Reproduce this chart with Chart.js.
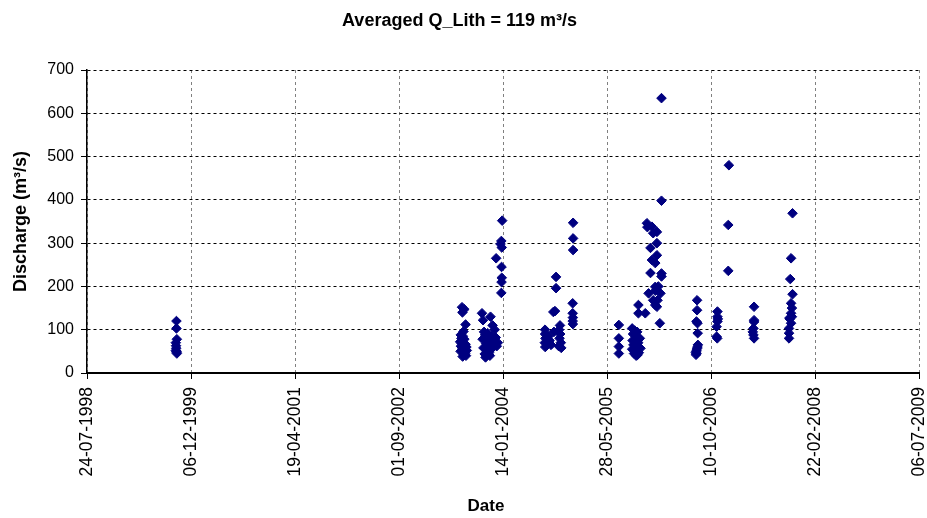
<!DOCTYPE html>
<html><head><meta charset="utf-8">
<script src="https://cdn.jsdelivr.net/npm/chart.js@4.4.0/dist/chart.umd.min.js"></script>
<style>html,body{margin:0;padding:0;background:#fff}#wrap{width:927px;height:518px;position:relative}</style>
</head><body><div id="wrap"><canvas id="c"></canvas></div>
<script>
const chartTitle = 'Averaged Q_Lith = 119 m³/s';
const xAxisTitle = 'Date';
const yAxisTitle = 'Discharge (m³/s)';
const xStartDate = '1998-07-24';
const xEndDate = '2009-07-06';
const xTickStepDays = 500;
const yMin = 0, yMax = 700, yStep = 100;

const sampleDates = [
 '1999-09-27','1999-09-27','1999-09-29','1999-09-24','1999-09-25','1999-09-26','1999-09-24','1999-09-28','1999-09-29','1999-09-27',
 '2003-07-01','2003-07-12','2003-07-03','2003-07-18','2003-07-08','2003-06-25','2003-07-05','2003-06-28','2003-07-12','2003-06-22',
 '2003-07-08','2003-07-18','2003-06-26','2003-07-02','2003-07-14','2003-06-24','2003-07-06','2003-07-16','2003-07-10','2003-07-04',
 '2003-07-20','2003-06-30','2003-07-22','2003-07-24',
 '2003-10-05','2003-11-15','2003-10-10','2003-11-25','2003-12-05','2003-10-15','2003-11-01','2003-10-20','2003-11-20','2003-12-10',
 '2003-10-08','2003-11-05','2003-12-01','2003-10-25','2003-11-10','2003-12-15','2003-10-12','2003-11-18','2003-10-30','2003-11-08',
 '2003-10-18','2003-11-12','2003-10-22','2003-11-28','2003-12-20','2003-10-28',
 '2004-01-10','2004-01-06','2004-01-02','2004-01-08','2003-12-12','2004-01-07','2004-01-08','2004-01-07','2004-01-06',
 '2004-08-03','2004-08-03','2004-08-05','2004-08-02','2004-08-04','2004-08-20','2004-08-25','2004-09-01','2004-09-12','2004-09-20',
 '2004-09-25','2004-09-25','2004-10-14','2004-10-10','2004-10-15','2004-10-12','2004-10-18','2004-10-08','2004-10-20','2004-09-15',
 '2004-12-16','2004-12-16','2004-12-16','2004-12-14','2004-12-14','2004-12-15','2004-12-14','2004-12-15',
 '2005-07-24','2005-07-24','2005-07-24','2005-07-24',
 '2005-09-26','2005-10-08','2005-10-20','2005-09-30','2005-10-14','2005-11-02','2005-09-28','2005-10-10','2005-10-25','2005-10-02',
 '2005-10-18','2005-11-05','2005-09-26','2005-10-12','2005-10-28','2005-10-05','2005-10-22','2005-10-15',
 '2005-10-26','2005-10-26','2005-11-28','2005-12-06','2005-12-08','2005-12-30','2006-01-05','2006-01-23','2006-01-23','2005-12-23',
 '2005-12-30','2006-01-23','2006-01-15','2005-12-23','2006-02-14','2006-02-14','2006-01-15','2006-01-30','2005-12-14','2006-02-09',
 '2006-01-15','2006-01-05','2006-01-26','2006-01-23','2006-01-15','2006-02-06','2006-02-14','2006-02-14',
 '2006-08-04','2006-08-04','2006-08-01','2006-08-06','2006-08-07','2006-08-08','2006-08-06','2006-08-04','2006-08-02','2006-07-31',
 '2006-07-29','2006-08-01','2006-07-30',
 '2006-11-10','2006-11-10','2006-11-10','2006-11-06','2006-11-06','2006-11-09','2006-11-12',
 '2007-01-04','2007-01-01','2007-01-01',
 '2007-05-05','2007-05-05','2007-05-05','2007-04-29','2007-05-05','2007-05-02','2007-05-02',
 '2007-11-06','2007-10-30','2007-10-26','2007-11-06','2007-10-30','2007-11-03','2007-10-30','2007-10-22','2007-10-30','2007-10-20',
 '2007-10-20','2007-10-20','2007-11-03','2007-10-24'
];
const discharge = [
 120,103,78,70,63,57,52,48,45,50,
 152,147,140,112,96,88,85,80,78,72,
 70,66,62,58,55,50,48,45,42,38,
 40,68,60,52,
 138,130,122,110,100,95,92,88,85,82,
 78,75,72,68,65,62,58,55,50,47,
 44,40,36,60,70,53,
 352,305,298,290,265,245,220,210,185,
 100,90,80,70,60,85,75,65,141,143,
 222,196,110,100,90,80,70,62,58,95,
 347,311,284,161,138,128,120,113,
 111,80,61,45,
 103,98,95,90,85,80,75,72,70,65,
 60,57,55,50,47,45,42,40,
 157,138,138,346,337,338,323,326,300,289,
 261,272,254,231,230,223,199,200,184,184,
 190,168,168,153,157,115,635,398,
 168,145,119,115,92,65,60,57,53,50,
 47,45,42,
 142,130,119,107,84,80,125,
 480,342,236,
 153,122,118,95,80,88,103,
 369,265,217,182,161,150,138,127,115,103,
 92,80,130,125
];

const DAY = 86400000;
function dayNum(s){ const p = s.split('-').map(Number); return Date.UTC(p[0], p[1]-1, p[2]) / DAY; }
const startDay = dayNum(xStartDate);
const spanDays = dayNum(xEndDate) - startDay;
function fmt(offset){
  const d = new Date((startDay + offset) * DAY);
  const dd = String(d.getUTCDate()).padStart(2,'0');
  const mm = String(d.getUTCMonth()+1).padStart(2,'0');
  return dd + '-' + mm + '-' + d.getUTCFullYear();
}
const points = sampleDates.map((s,i) => ({x: dayNum(s) - startDay, y: discharge[i]}));

const FONT = "'Liberation Sans', Arial, sans-serif";

const xTitlePlugin = {
  id: 'xTitle',
  afterDraw(chart) {
    const ctx = chart.ctx, a = chart.chartArea;
    ctx.save();
    ctx.font = "bold 17px " + FONT;
    ctx.fillStyle = '#000';
    ctx.textAlign = 'center';
    ctx.textBaseline = 'middle';
    ctx.fillText(xAxisTitle, (a.left + a.right) / 2 - 17, 506);
    ctx.restore();
  }
};

new Chart(document.getElementById('c'), {
  type: 'scatter',
  data: { datasets: [{
    data: points,
    pointStyle: 'rectRot',
    pointRadius: 4.8,
    pointBackgroundColor: '#000080',
    pointBorderColor: '#000080',
    pointBorderWidth: 1
  }]},
  plugins: [xTitlePlugin],
  options: {
    responsive: true,
    maintainAspectRatio: false,
    animation: false,
    events: [],
    layout: { padding: { left: 0, right: 8, top: 0, bottom: 0 } },
    plugins: {
      legend: { display: false },
      tooltip: { enabled: false },
      title: {
        display: true, text: chartTitle, color: '#000',
        font: { family: FONT, size: 18, weight: 'bold' },
        padding: { top: 10, bottom: 38.4 }
      }
    },
    scales: {
      x: {
        type: 'linear', min: 0, max: spanDays,
        afterFit: s => { s.height = 145; s.paddingLeft = 0; s.paddingRight = 0; },
        ticks: {
          stepSize: xTickStepDays, minRotation: 90, maxRotation: 90, autoSkip: false,
          color: '#000', padding: 8,
          font: { family: FONT, size: 17.5 },
          callback: v => fmt(v)
        },
        grid: { color: '#808080', lineWidth: 1, tickLength: 6, tickColor: '#000', tickBorderDash: [] },
        border: { color: '#000', width: 2, dash: [3,3] },
        title: { display: false }
      },
      y: {
        min: yMin, max: yMax,
        afterFit: s => { s.width = 87; s.paddingTop = 0; s.paddingBottom = 0; },
        ticks: { stepSize: yStep, color: '#000', padding: 7, font: { family: FONT, size: 16 } },
        grid: { color: '#000', lineWidth: 1, tickLength: 6, tickColor: '#000', tickBorderDash: [] },
        border: { color: '#000', width: 1.5, dash: [3,3] },
        title: { display: true, text: yAxisTitle, color: '#000',
          font: { family: FONT, size: 18, weight: 'bold' }, padding: { top: 10, bottom: 0 } }
      }
    }
  }
});
</script></body></html>
